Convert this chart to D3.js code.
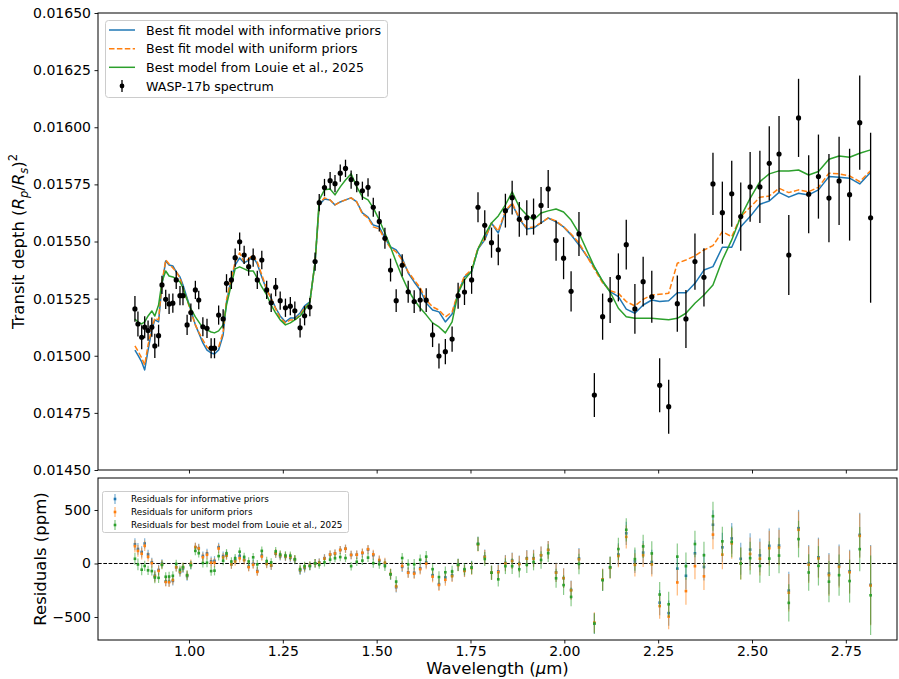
<!DOCTYPE html>
<html>
<head>
<meta charset="utf-8">
<script src="https://cdn.jsdelivr.net/npm/d3@7"></script>
<style>
  html, body { margin: 0; padding: 0; background: #fff; }
  svg { display: block; font-family: "DejaVu Sans", sans-serif; }
</style>
</head>
<body>
<div id="chart"></div>
<script>
// wavelength bins (micron)
const wavelength = [
  0.856,0.864,0.874,0.882,0.891,0.901,0.909,0.919,0.928,0.938,
  0.947,0.957,0.966,0.976,0.984,0.995,1.005,1.017,1.026,1.037,
  1.048,1.059,1.068,1.079,1.091,1.100,1.113,1.123,1.135,1.147,
  1.159,1.171,1.182,1.194,1.207,1.219,1.231,1.243,1.257,1.270,
  1.282,1.296,1.308,1.322,1.336,1.347,1.361,1.376,1.389,1.403,
  1.417,1.432,1.447,1.462,1.477,1.491,1.507,1.522,1.537,1.552,
  1.568,1.584,1.600,1.616,1.632,1.649,1.666,1.683,1.701,1.717,
  1.734,1.753,1.770,1.788,1.806,1.824,1.843,1.861,1.880,1.900,
  1.918,1.938,1.957,1.978,1.998,2.018,2.039,2.080,2.102,2.122,
  2.144,2.165,2.188,2.210,2.233,2.254,2.278,2.301,2.324,2.348,
  2.372,2.396,2.421,2.446,2.470,2.495,2.521,2.546,2.572,2.598,
  2.624,2.651,2.677,2.705,2.732,2.760,2.787,2.816
];
// transit depth, ppm
const depthPpm = [
  15205,15139,15081,15125,15110,15125,15043,15088,15310,15247,
  15227,15230,15332,15263,15263,15135,15189,15288,15244,15127,
  15120,15033,15033,15178,15161,15317,15332,15429,15499,15441,
  15390,15429,15332,15419,15288,15232,15300,15241,15210,15217,
  15197,15122,15175,15213,15412,15670,15736,15766,15753,15799,
  15820,15771,15755,15722,15737,15650,15588,15514,15375,15241,
  15396,15280,15237,15244,15243,15091,14999,15018,15073,15263,
  15279,15332,15650,15571,15495,15464,15635,15692,15597,15604,
  15609,15658,15730,15504,15427,15282,15533,14828,15171,15244,
  15343,15486,15205,15324,15258,14871,14777,15228,15161,15412,
  15343,15752,15626,15709,15609,15739,15739,15842,15883,15441,
  16041,15707,15784,15690,15765,15705,16020,15604
];
// 1-sigma uncertainty, ppm
const errPpm = [
  56,55,53,48,44,42,53,48,40,42,
  44,42,40,42,42,44,40,40,40,42,
  42,44,44,42,42,40,40,40,40,40,
  40,40,40,40,40,40,40,40,40,40,
  40,42,42,40,40,38,38,38,38,38,
  38,40,40,40,40,42,44,46,50,50,
  48,48,50,50,52,53,55,55,55,57,
  57,61,66,66,66,68,74,74,76,77,
  79,81,83,88,92,88,96,96,101,101,
  105,109,109,109,114,118,118,123,127,123,
  127,136,136,144,149,153,158,162,166,175,
  171,171,184,193,193,201,206,372
];
// best fit model with informative priors, ppm
const modelInformative = [
  15025,15003,14973,14938,15025,15113,15157,15148,15310,15415,
  15397,15393,15367,15345,15310,15253,15200,15135,15100,15056,
  15025,15012,15008,15025,15091,15236,15340,15397,15428,15406,
  15419,15432,15402,15345,15288,15253,15209,15174,15148,15165,
  15165,15187,15218,15236,15410,15660,15686,15682,15660,15673,
  15682,15691,15673,15625,15607,15572,15564,15515,15476,15463,
  15428,15362,15323,15288,15231,15200,15192,15148,15183,15275,
  15345,15367,15467,15507,15581,15537,15629,15664,15599,15555,
  15559,15581,15603,15586,15564,15529,15485,15389,15324,15281,
  15259,15204,15186,15222,15244,15237,15241,15276,15276,15317,
  15375,15390,15475,15475,15565,15609,15663,15677,15715,15694,
  15711,15704,15726,15784,15781,15777,15752,15803
];
// best fit model with uniform priors, ppm
const modelUniform = [
  15043,15021,14990,14960,15047,15122,15165,15157,15319,15419,
  15402,15384,15367,15340,15297,15244,15192,15135,15104,15069,
  15038,15025,15025,15038,15104,15244,15340,15410,15450,15410,
  15424,15441,15410,15354,15292,15249,15205,15165,15144,15157,
  15157,15179,15209,15231,15410,15664,15691,15682,15660,15673,
  15682,15691,15673,15621,15603,15564,15555,15507,15472,15454,
  15419,15367,15332,15297,15244,15214,15200,15170,15192,15279,
  15349,15376,15472,15511,15581,15546,15634,15669,15603,15559,
  15564,15581,15603,15590,15564,15533,15494,15380,15319,15285,
  15273,15237,15218,15247,15266,15269,15273,15405,15419,15437,
  15463,15482,15543,15521,15609,15650,15694,15699,15733,15714,
  15726,15718,15737,15799,15796,15787,15762,15810
];
// best model from Louie et al. 2025, ppm
const modelLouie = [
  15161,15148,15139,15148,15174,15196,15174,15222,15323,15371,
  15349,15345,15336,15323,15297,15244,15205,15170,15148,15122,
  15113,15104,15100,15109,15135,15222,15314,15380,15389,15380,
  15371,15371,15340,15301,15266,15222,15187,15157,15135,15144,
  15157,15174,15200,15236,15410,15682,15726,15730,15704,15739,
  15769,15796,15739,15695,15682,15647,15594,15537,15476,15410,
  15345,15288,15244,15209,15179,15144,15126,15100,15148,15275,
  15332,15371,15467,15529,15581,15612,15660,15717,15651,15616,
  15594,15625,15634,15642,15629,15594,15537,15389,15327,15279,
  15208,15171,15164,15164,15164,15161,15158,15164,15186,15230,
  15266,15310,15419,15507,15609,15689,15762,15796,15809,15809,
  15813,15791,15806,15860,15874,15869,15886,15901
];

const depthTicks = [0.0145, 0.01475, 0.015, 0.01525, 0.0155, 0.01575, 0.016, 0.01625, 0.0165];
const residTicks = [-500, 0, 500];
const wlTicks = [1.0, 1.25, 1.5, 1.75, 2.0, 2.25, 2.5, 2.75];

const COLORS = { inf: '#1f77b4', uni: '#ff7f0e', lou: '#2ca02c' };
const seriesDefs = [
  { key: 'inf', model: modelInformative, color: COLORS.inf, label: 'Best fit model with informative priors', rlabel: 'Residuals for informative priors', dash: null },
  { key: 'uni', model: modelUniform, color: COLORS.uni, label: 'Best fit model with uniform priors', rlabel: 'Residuals for uniform priors', dash: '5.5,2.4' },
  { key: 'lou', model: modelLouie, color: COLORS.lou, label: 'Best model from Louie et al., 2025', rlabel: 'Residuals for best model from Louie et al., 2025', dash: null }
];

const rows = wavelength.map((w, i) => ({
  w, d: depthPpm[i] / 1e6, e: errPpm[i] / 1e6, eppm: errPpm[i],
  res: { inf: depthPpm[i] - modelInformative[i], uni: depthPpm[i] - modelUniform[i], lou: depthPpm[i] - modelLouie[i] }
}));

const W = 899, H = 679;
const L = 98, R = 897, T1 = 13, B1 = 470, T2 = 478, B2 = 640;
const svg = d3.select('#chart').append('svg').attr('width', W).attr('height', H).attr('viewBox', `0 0 ${W} ${H}`);

const x = d3.scaleLinear().domain([0.7576, 2.8863]).range([L, R]);
const y = d3.scaleLinear().domain([0.0145, 0.0165]).range([B1, T1]);
const yr = d3.scaleLinear().domain([-715, 799]).range([B2, T2]);

svg.append('defs').append('clipPath').attr('id', 'clipTop').append('rect').attr('x', L).attr('y', T1).attr('width', R - L).attr('height', B1 - T1);
svg.select('defs').append('clipPath').attr('id', 'clipBot').append('rect').attr('x', L).attr('y', T2).attr('width', R - L).attr('height', B2 - T2);

// ---- top panel: models
const gTop = svg.append('g').attr('clip-path', 'url(#clipTop)');
const line = d3.line().x(d => x(d[0])).y(d => y(d[1]));
seriesDefs.forEach(s => {
  gTop.append('path')
    .attr('d', line(wavelength.map((w, i) => [w, s.model[i] / 1e6])))
    .attr('fill', 'none').attr('stroke', s.color).attr('stroke-width', 1.5)
    .attr('stroke-dasharray', s.dash).attr('stroke-linejoin', 'round');
});
// data with errorbars
const gData = gTop.append('g');
gData.selectAll('line').data(rows).enter().append('line')
  .attr('x1', d => x(d.w)).attr('x2', d => x(d.w))
  .attr('y1', d => y(d.d - d.e)).attr('y2', d => y(d.d + d.e))
  .attr('stroke', '#000').attr('stroke-width', 1.3);
gData.selectAll('circle').data(rows).enter().append('circle')
  .attr('cx', d => x(d.w)).attr('cy', d => y(d.d)).attr('r', 2.6).attr('fill', '#000');

// ---- bottom panel: residuals
const gBot = svg.append('g').attr('clip-path', 'url(#clipBot)');
gBot.append('line').attr('x1', L).attr('x2', R).attr('y1', yr(0)).attr('y2', yr(0))
  .attr('stroke', '#000').attr('stroke-width', 1).attr('stroke-dasharray', '3.7,1.6');
seriesDefs.forEach(s => {
  const g = gBot.append('g');
  g.selectAll('line').data(rows).enter().append('line')
    .attr('x1', d => x(d.w)).attr('x2', d => x(d.w))
    .attr('y1', d => yr(d.res[s.key] - d.eppm)).attr('y2', d => yr(d.res[s.key] + d.eppm))
    .attr('stroke', s.color).attr('stroke-width', 1.2).attr('opacity', 0.55);
  g.selectAll('rect').data(rows).enter().append('rect')
    .attr('x', d => x(d.w) - 1.3).attr('y', d => yr(d.res[s.key]) - 1.3)
    .attr('width', 2.6).attr('height', 2.6).attr('fill', s.color);
});

// ---- axes
function styleAxis(g) {
  g.select('.domain').remove();
  g.selectAll('.tick line').attr('stroke', '#000').attr('stroke-width', 0.9);
  g.selectAll('.tick text').attr('fill', '#000').style('font-size', '14px').style('font-family', '"DejaVu Sans", sans-serif');
}
const fmtDepth = d3.format('.5f');
svg.append('g').attr('transform', `translate(${L},0)`)
  .call(d3.axisLeft(y).tickValues(depthTicks).tickFormat(fmtDepth).tickSize(3.5).tickPadding(3.5)).call(styleAxis);
svg.append('g').attr('transform', `translate(0,${B1})`)
  .call(d3.axisBottom(x).tickValues(wlTicks).tickFormat('').tickSize(3.5)).call(styleAxis);
svg.append('g').attr('transform', `translate(${L},0)`)
  .call(d3.axisLeft(yr).tickValues(residTicks).tickFormat(d => d < 0 ? '\u2212' + Math.abs(d) : d).tickSize(3.5).tickPadding(3.5)).call(styleAxis);
svg.append('g').attr('transform', `translate(0,${B2})`)
  .call(d3.axisBottom(x).tickValues(wlTicks).tickFormat(d3.format('.2f')).tickSize(3.5).tickPadding(2.5)).call(styleAxis);

// frames
[[T1, B1], [T2, B2]].forEach(([t, b]) => {
  svg.append('rect').attr('x', L).attr('y', t).attr('width', R - L).attr('height', b - t)
    .attr('fill', 'none').attr('stroke', '#000').attr('stroke-width', 1);
});

// ---- axis labels
const yl = svg.append('text').attr('transform', `translate(24,${(T1 + B1) / 2}) rotate(-90)`)
  .attr('text-anchor', 'middle').style('font-size', '16.5px').attr('fill', '#000');
yl.append('tspan').text('Transit depth (');
yl.append('tspan').attr('font-style', 'italic').text('R');
yl.append('tspan').attr('font-style', 'italic').style('font-size', '11.5px').attr('dy', 3.5).text('p');
yl.append('tspan').attr('dy', -3.5).text('/');
yl.append('tspan').attr('font-style', 'italic').text('R');
yl.append('tspan').attr('font-style', 'italic').style('font-size', '11.5px').attr('dy', 3.5).text('s');
yl.append('tspan').attr('dy', -3.5).text(')');
yl.append('tspan').style('font-size', '11.5px').attr('dy', -7).text('2');

svg.append('text').attr('transform', `translate(46,${(T2 + B2) / 2}) rotate(-90)`)
  .attr('text-anchor', 'middle').style('font-size', '16.5px').attr('fill', '#000').text('Residuals (ppm)');

const xl = svg.append('text').attr('x', (L + R) / 2).attr('y', 674).attr('text-anchor', 'middle')
  .style('font-size', '16.5px').attr('fill', '#000');
xl.append('tspan').text('Wavelength (');
xl.append('tspan').attr('font-style', 'italic').text('\u03bc');
xl.append('tspan').text('m)');

// ---- legends
const lg = svg.append('g');
lg.append('rect').attr('x', 105.5).attr('y', 20.5).attr('width', 282).attr('height', 77).attr('rx', 3)
  .attr('fill', '#fff').attr('fill-opacity', 0.8).attr('stroke', '#cccccc').attr('stroke-width', 1);
const rowsY = [30, 48.7, 67.3, 86];
seriesDefs.forEach((s, i) => {
  lg.append('line').attr('x1', 109).attr('x2', 135).attr('y1', rowsY[i]).attr('y2', rowsY[i])
    .attr('stroke', s.color).attr('stroke-width', 1.5).attr('stroke-dasharray', s.dash);
  lg.append('text').attr('x', 146).attr('y', rowsY[i]).attr('dy', '0.36em').style('font-size', '12.6px').text(s.label);
});
lg.append('line').attr('x1', 122).attr('x2', 122).attr('y1', rowsY[3] - 6).attr('y2', rowsY[3] + 6).attr('stroke', '#000').attr('stroke-width', 1.3);
lg.append('circle').attr('cx', 122).attr('cy', rowsY[3]).attr('r', 2.4).attr('fill', '#000');
lg.append('text').attr('x', 146).attr('y', rowsY[3]).attr('dy', '0.36em').style('font-size', '12.6px').text('WASP-17b spectrum');

const lg2 = svg.append('g');
lg2.append('rect').attr('x', 102.5).attr('y', 491.5).attr('width', 246).attr('height', 41).attr('rx', 2)
  .attr('fill', '#fff').attr('fill-opacity', 0.8).attr('stroke', '#cccccc').attr('stroke-width', 1);
const rows2 = [499, 512, 525];
seriesDefs.forEach((s, i) => {
  lg2.append('line').attr('x1', 115).attr('x2', 115).attr('y1', rows2[i] - 5).attr('y2', rows2[i] + 5)
    .attr('stroke', s.color).attr('stroke-width', 1.2).attr('opacity', 0.6);
  lg2.append('rect').attr('x', 113.7).attr('y', rows2[i] - 1.3).attr('width', 2.6).attr('height', 2.6).attr('fill', s.color);
  lg2.append('text').attr('x', 131).attr('y', rows2[i]).attr('dy', '0.36em').style('font-size', '8.8px').text(s.rlabel);
});
</script>
</body>
</html>
